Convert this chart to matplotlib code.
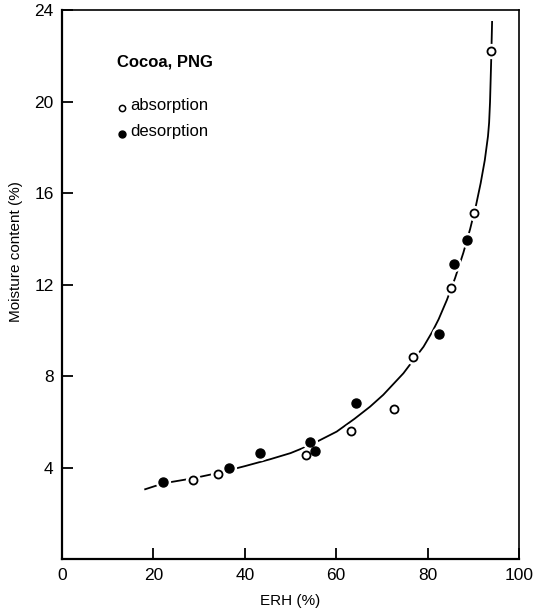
import numpy as np
import matplotlib.pyplot as plt

plt.rcParams['font.family'] = ['Liberation Sans', 'DejaVu Sans']

# absorption points (open circles)
ABS_ERH = [28.7, 34.1, 53.4, 63.2, 72.6, 76.7, 85.2, 90.2, 93.9]
ABS_MC = [3.49, 3.72, 4.58, 5.60, 6.57, 8.87, 11.87, 15.16, 22.24]

# desorption points (filled circles)
DES_ERH = [22.2, 36.5, 43.4, 54.3, 55.4, 64.3, 82.4, 85.8, 88.6]
DES_MC = [3.37, 4.01, 4.66, 5.15, 4.73, 6.85, 9.86, 12.92, 13.97]

# fitted curve
CURVE_ERH = [18.2, 22.2, 28.7, 34.1, 40, 45.5, 50, 54.3, 60.1, 64, 67.4,
             70.3, 74.7, 77, 79.1, 81, 82.4, 84.2, 86.0, 87.8, 89.3, 90.6,
             91.6, 92.5, 93.2, 93.45, 93.65, 93.9, 94.1]
CURVE_MC = [3.07, 3.33, 3.55, 3.78, 4.08, 4.38, 4.65, 5.0, 5.59, 6.15, 6.68,
            7.2, 8.14, 8.75, 9.30, 9.95, 10.5, 11.34, 12.3, 13.4, 14.45,
            15.5, 16.45, 17.45, 18.5, 19.1, 20.0, 21.8, 23.5]

XTICKS = [0, 20, 40, 60, 80, 100]
YTICKS = [4, 8, 12, 16, 20, 24]


fig = plt.figure(figsize=(5.39, 6.09), dpi=100)
ax = fig.add_axes([0.115, 0.0813, 0.848, 0.9015])

ax.plot(CURVE_ERH, CURVE_MC, color='black', lw=1.3, zorder=2)

# white halos give the small gaps in the line around each point
all_x = ABS_ERH + DES_ERH
all_y = ABS_MC + DES_MC
ax.plot(all_x, all_y, 'o', ms=10, color='white', mec='white', ls='none', zorder=3)
ax.plot(ABS_ERH, ABS_MC, 'o', ms=5.8, mfc='white', mec='black', mew=1.3,
        ls='none', zorder=4)
ax.plot(DES_ERH, DES_MC, 'o', ms=6.5, color='black', ls='none', zorder=4)

# legend drawn by hand like the original
ax.text(12.0, 21.75, 'Cocoa, PNG', fontsize=12, fontweight='bold', va='center')
ax.plot([13.1], [19.75], 'o', ms=4.5, mfc='white', mec='black', mew=1.1)
ax.text(15.0, 19.85, 'absorption', fontsize=12, va='center')
ax.plot([13.1], [18.6], 'o', ms=5, color='black')
ax.text(15.0, 18.7, 'desorption', fontsize=12, va='center')

ax.set_xlim(0, 100)
ax.set_ylim(0, 24)
ax.set_xticks(XTICKS)
ax.set_yticks(YTICKS)
ax.tick_params(direction='in', length=8, width=1.3, labelsize=12.5, pad=6)

for side in ['left', 'bottom']:
    ax.spines[side].set_linewidth(1.6)
for side in ['top', 'right']:
    ax.spines[side].set_linewidth(1.2)

ax.set_xlabel('ERH (%)', fontsize=11, labelpad=8)
ax.set_ylabel('Moisture content (%)', fontsize=11)
ax.yaxis.set_label_coords(-0.085, 0.56)

fig.savefig('out.png', dpi=100)
